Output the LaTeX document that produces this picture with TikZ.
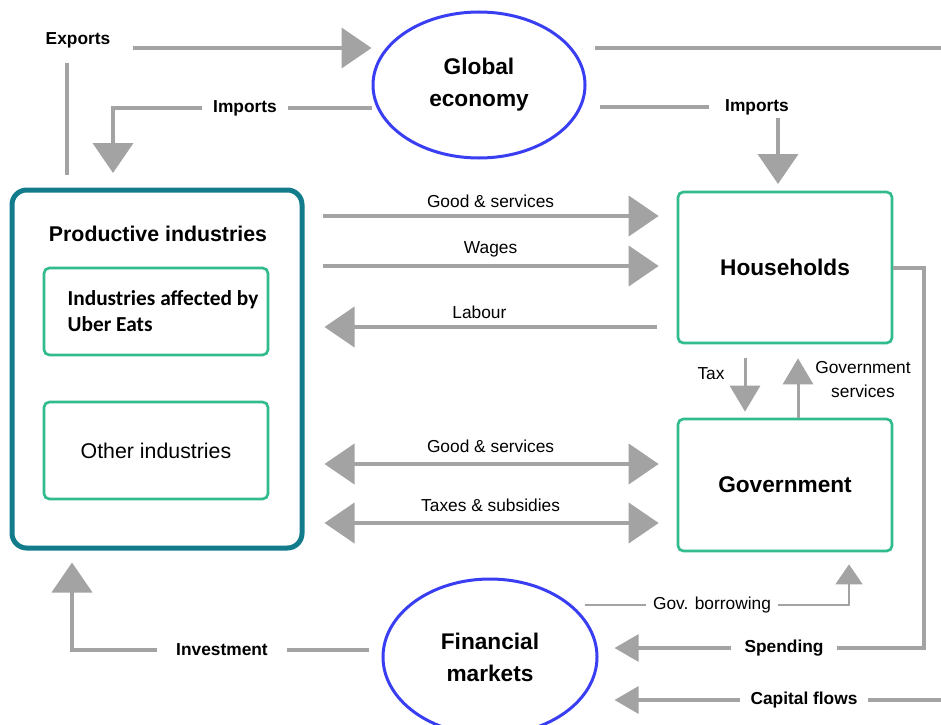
\documentclass[tikz,border=0pt]{standalone}
\usepackage{fontspec}
\setmainfont{Liberation Sans}
\newfontfamily\carlito{Carlito}
\usetikzlibrary{arrows.meta,shapes.geometric}
\definecolor{agray}{RGB}{163,163,163}
\definecolor{eblue}{RGB}{58,62,242}
\definecolor{tealbox}{RGB}{18,124,140}
\definecolor{grn}{RGB}{50,188,140}
\tikzset{
  flow/.style={draw=agray, line width=3pt},
  thinflow/.style={draw=agray, line width=2.25pt},
  thinnerflow/.style={draw=agray, line width=2pt},
  bighead/.style={-{Triangle[length=22.5pt,width=30pt]}},
  twohead/.style={{Triangle[length=22.5pt,width=30pt]}-{Triangle[length=22.5pt,width=30pt]}},
  midhead/.style={-{Triangle[length=19.5pt,width=22.5pt]}},
  smallhead/.style={-{Triangle[length=18pt,width=20pt]}},
  tinyhead/.style={-{Triangle[length=15pt,width=20pt]}},
  lbl/.style={font=\fontsize{13}{15}\selectfont, inner xsep=8pt, inner ysep=2pt},
  blbl/.style={lbl, font=\fontsize{13}{15}\selectfont\bfseries},
  ttl/.style={font=\fontsize{17}{24}\selectfont\bfseries, align=center},
  ell/.style={ellipse, draw=eblue, line width=2.25pt},
  gbox/.style={rectangle, draw=grn, line width=2pt, rounded corners=4pt},
}
\begin{document}
\begin{tikzpicture}[x=0.75pt,y=-0.75pt]
\useasboundingbox (0,0) rectangle (941,724);
\fill[white] (0,0) rectangle (941,724);

% ---- main shapes
\node[draw=tealbox, line width=3.75pt, rounded corners=11pt, minimum width=217.5pt, minimum height=268.5pt] (prod) at (157,369) {};
\node[font=\fontsize{16}{19}\selectfont\bfseries] (prodlbl) at (158,234) {Productive industries};
\node[gbox, minimum width=168pt, minimum height=65.25pt] (uber) at (156,311.5) {};
\node[align=left, font=\fontsize{16}{19}\selectfont\carlito\bfseries] (uberlbl) at (163,311) {Industries affected by\\Uber Eats};
\node[gbox, minimum width=168pt, minimum height=72.75pt, font=\fontsize{16}{19}\selectfont] (other) at (156,450.5) {Other industries};
\node[gbox, ttl, minimum width=160.5pt, minimum height=113.25pt] (house) at (785,267.5) {Households};
\node[gbox, ttl, minimum width=160.5pt, minimum height=99pt] (gov) at (785,485) {Government};
\node[ell, ttl, minimum width=159pt, minimum height=109.5pt] (global) at (479,85) {Global\\economy};
\node[ell, ttl, minimum width=160.5pt, minimum height=117pt] (fin) at (490,657) {Financial\\markets};

% ---- Exports
\node[blbl] (exports) at (78,40) {Exports};
\coordinate (expTop) at (67,63);
\coordinate (expStart) at (133,48);
\coordinate (topR) at (941,48);
\draw[flow, shorten <=9.75pt] (prod.north -| expTop) -- (expTop);
\draw[flow, bighead] (expStart) -- (global.west |- expStart);
\draw[flow, shorten <=6pt] (global.east |- expStart) -- (topR);

% ---- Imports (left)
\node[blbl] (impL) at (245,108) {Imports};
\coordinate (impLcorner) at (113,108);
\coordinate (impLtip) at (113,173);
\draw[flow] (global.west |- impL) -- (impL.east);
\draw[flow, bighead] (impL.west) -- (impLcorner) -- (impLtip);

% ---- Imports (right)
\node[blbl, inner xsep=12pt] (impR) at (757,107) {Imports};
\coordinate (impRx) at (778,0);
\draw[flow, shorten <=9.75pt] (global.east |- impR) -- (impR.west);
\draw[flow, bighead, shorten >=5pt] (impR.south -| impRx) -- (house.north -| impRx);

% ---- middle flows
\coordinate (r1) at (0,216);
\coordinate (r2) at (0,266);
\coordinate (r3) at (0,327);
\coordinate (r4) at (0,464);
\coordinate (r5) at (0,523);
\draw[flow, bighead, shorten <=13.5pt, shorten >=13.5pt] (prod.east |- r1) -- node[lbl, above=3pt] (gs1) {Good \& services} (house.west |- r1);
\draw[flow, bighead, shorten <=13.5pt, shorten >=13.5pt] (prod.east |- r2) -- node[lbl, above=3pt] (wages) {Wages} (house.west |- r2);
\draw[flow, bighead, shorten <=15pt, shorten >=15pt] (house.west |- r3) -- node[lbl, above=3pt, pos=0.53] (labour) {Labour} (prod.east |- r3);
\draw[flow, twohead, shorten <=15pt, shorten >=13.5pt] (prod.east |- r4) -- node[lbl, above=5pt] (gs2) {Good \& services} (gov.west |- r4);
\draw[flow, twohead, shorten <=15pt, shorten >=13.5pt] (prod.east |- r5) -- node[lbl, above=5pt] (taxsub) {Taxes \& subsidies} (gov.west |- r5);

% ---- Tax / Government services
\coordinate (cTax) at (745,0);
\coordinate (cSvc) at (798,0);
\draw[thinflow, midhead, shorten <=10.5pt, shorten >=4.5pt] (house.south -| cTax) -- (gov.north -| cTax);
\node[lbl] (taxlbl) at (711,374) {Tax};
\draw[thinflow, midhead, shorten >=10.5pt] (gov.north -| cSvc) -- (house.south -| cSvc);
\node[lbl, align=center, font=\fontsize{13}{18}\selectfont] (svclbl) at (863,380) {Government\\services};

% ---- Spending
\node[blbl, inner xsep=10pt] (spend) at (784,648) {Spending};
\coordinate (spX) at (924,0);
\draw[flow] (house.east) -- (house.east -| spX) -- (spX |- spend) -- (spend.east);
\draw[flow, smallhead, shorten >=12pt] (spend.west) -- (fin.east |- spend);

% ---- Capital flows
\node[blbl] (cap) at (804,700) {Capital flows};
\coordinate (capR) at (941,700);
\draw[flow] (capR) -- (cap.east);
\draw[flow, smallhead, shorten >=12pt] (cap.west) -- (fin.east |- cap);

% ---- Gov. borrowing
\node[lbl, inner xsep=5pt] (borrow) at (712,605) {Gov. borrowing};
\coordinate (bStart) at (585,605);
\coordinate (bX) at (849,0);
\draw[thinnerflow] (bStart) -- (borrow.west);
\draw[thinnerflow, tinyhead, shorten >=9pt] (borrow.east) -- (borrow.east -| bX) -- (gov.south -| bX);

% ---- Investment
\node[blbl, inner xsep=14pt] (invest) at (222,650) {Investment};
\coordinate (invX) at (72,0);
\draw[flow, shorten <=9.75pt] (fin.west |- invest) -- (invest.east);
\draw[flow, bighead, shorten >=9pt] (invest.west) -- (invest.west -| invX) -- (prod.south -| invX);
\end{tikzpicture}
\end{document}
